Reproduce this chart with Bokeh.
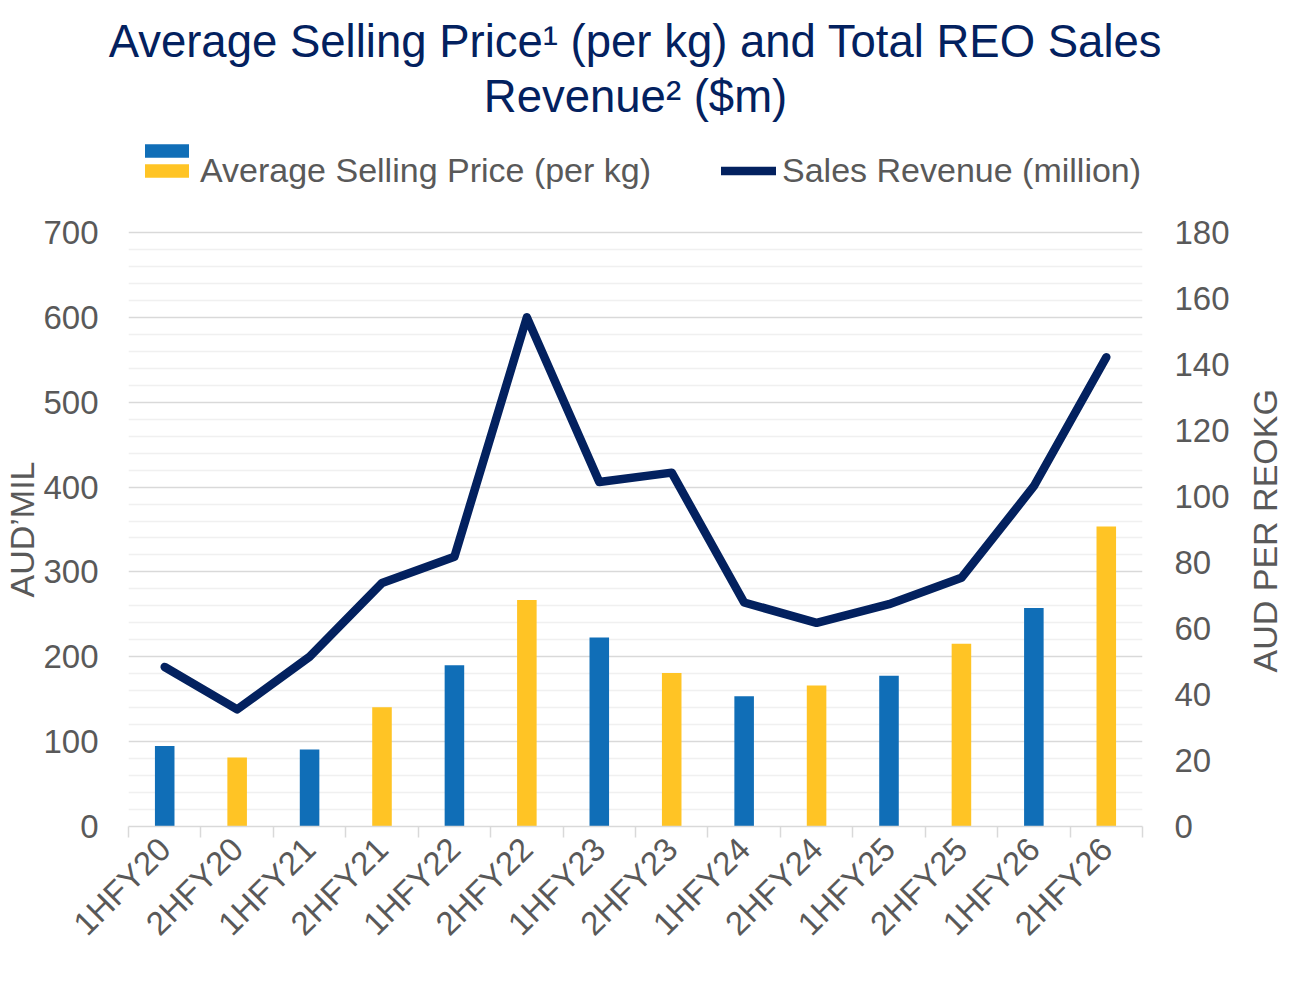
import math
from bokeh.plotting import figure
from bokeh.layouts import row
from bokeh.models import Range1d, LinearAxis, FixedTicker, Legend, LegendItem, Title
from bokeh.embed import file_html
from bokeh.resources import INLINE

periods = ["1HFY20", "2HFY20", "1HFY21", "2HFY21", "1HFY22", "2HFY22", "1HFY23",
           "2HFY23", "1HFY24", "2HFY24", "1HFY25", "2HFY25", "1HFY26", "2HFY26"]
asp_per_kg = [24.4, 20.9, 23.3, 36.1, 48.9, 68.6, 57.3, 46.5, 39.5, 42.7, 45.7, 55.4, 66.2, 90.9]
sales_revenue_m = [188, 138, 200, 287, 318, 600, 406, 417, 264, 240, 262, 293, 401, 553]
left_ticks = [0, 100, 200, 300, 400, 500, 600, 700]
right_ticks = [0, 20, 40, 60, 80, 100, 120, 140, 160, 180]
left_minor = [v for v in range(0, 701, 20) if v % 100]
title_lines = ["Average Selling Price\u00b9 (per kg) and Total REO Sales", "Revenue\u00b2 ($m)"]
left_label = "AUD\u2019MIL"
right_label = "AUD PER REOKG"

FONT = "Liberation Sans"
GRAY = "#595959"
NAVY = "#03215f"
BLUE = "#106eb7"
YELLOW = "#ffc425"

# ---- layout, in canvas pixels ----
H = 966
W_MAIN, W_SIDE = 1243, 45
AXIS_ZERO_PX, AXIS_TOP_PX = 826, 232          # where 0 and 700 sit
FRAME_TOP = 123
BORDER_BOTTOM = H - AXIS_ZERO_PX
left_max, right_max = 700, 180
k = (AXIS_ZERO_PX - AXIS_TOP_PX) / left_max   # px per left unit
y_hi = left_max + (AXIS_TOP_PX - FRAME_TOP) / k
r = right_max / left_max

n = len(periods)
centers = [i + 0.5 for i in range(n)]
bounds = list(range(n + 1))

p = figure(width=W_MAIN, height=H, x_range=Range1d(0, n), y_range=Range1d(0, y_hi),
           output_backend="svg", toolbar_location=None,
           min_border_left=123, min_border_right=101, min_border_top=FRAME_TOP,
           min_border_bottom=BORDER_BOTTOM)
p.title = None
p.outline_line_color = None
p.extra_y_ranges = {"asp": Range1d(0, y_hi * r)}

# bars split by half-year colour
h1 = [i for i, s in enumerate(periods) if s.startswith("1H")]
h2 = [i for i, s in enumerate(periods) if s.startswith("2H")]
blue_r = p.vbar(x=[centers[i] for i in h1], top=[asp_per_kg[i] for i in h1], width=0.27,
                fill_color=BLUE, line_color=None, y_range_name="asp")
yellow_r = p.vbar(x=[centers[i] for i in h2], top=[asp_per_kg[i] for i in h2], width=0.27,
                  fill_color=YELLOW, line_color=None, y_range_name="asp")
line_r = p.line(x=centers, y=sales_revenue_m, line_width=8.5, line_color=NAVY,
                line_join="round", line_cap="round")

# x axis
xa = p.xaxis[0]
xa.ticker = FixedTicker(ticks=centers, minor_ticks=bounds)
xa.major_label_overrides = {c: lab for c, lab in zip(centers, periods)}
xa.major_label_orientation = math.pi / 4
xa.major_tick_out = 0
xa.major_tick_in = 0
xa.minor_tick_out = 11
xa.minor_tick_in = 0
xa.minor_tick_line_color = "#d9d9d9"
xa.minor_tick_line_width = 1.5
xa.axis_line_color = "#d9d9d9"
xa.axis_line_width = 1.5
xa.major_label_text_font = FONT
xa.major_label_text_font_size = "33px"
xa.major_label_text_color = GRAY
xa.major_label_standoff = 6

# left axis (ticks only; its title is a rotated Title further out)
ya = p.yaxis[0]
ya.ticker = FixedTicker(ticks=left_ticks, minor_ticks=left_minor)
ya.axis_line_color = None
ya.major_tick_line_color = None
ya.minor_tick_line_color = None
ya.major_tick_out = 0
ya.minor_tick_out = 0
ya.major_tick_in = 0
ya.minor_tick_in = 0
ya.major_label_standoff = 30
ya.major_label_text_font = FONT
ya.major_label_text_font_size = "33px"
ya.major_label_text_color = GRAY

# axis titles: start of text measured up from the bottom of the plot frame
LEFT_LABEL_START = 229
RIGHT_LABEL_START = 154
lt = Title(text=left_label, align="left", offset=LEFT_LABEL_START, text_font=FONT,
           text_font_size="34px", text_font_style="normal", text_color=GRAY, standoff=0)
p.add_layout(lt, "left")

# right axis with ticks
ra = LinearAxis(y_range_name="asp", ticker=FixedTicker(ticks=right_ticks))
ra.axis_line_color = None
ra.major_tick_line_color = None
ra.minor_tick_line_color = None
ra.major_tick_out = 0
ra.minor_tick_out = 0
ra.major_tick_in = 0
ra.minor_tick_in = 0
ra.major_label_standoff = 32
ra.major_label_text_font = FONT
ra.major_label_text_font_size = "33px"
ra.major_label_text_color = GRAY
p.add_layout(ra, "right")

# grid
p.xgrid.visible = False
g = p.ygrid[0]
g.ticker = ya.ticker
g.grid_line_color = "#d9d9d9"
g.grid_line_width = 1.5
g.minor_grid_line_color = "#f0f0f0"
g.minor_grid_line_width = 1.5

# title: second line nearest the plot, first line above it
t2 = Title(text=title_lines[1], align="center", text_font=FONT, text_font_size="45.5px",
           text_font_style="normal", text_color=NAVY, standoff=4)
t1 = Title(text=title_lines[0], align="center", text_font=FONT, text_font_size="45.5px",
           text_font_style="normal", text_color=NAVY, standoff=0)
p.add_layout(t2, "above")
p.add_layout(t1, "above")

# legend (two parts so the bar swatch shows both colours); location = bottom-left offset
common = dict(padding=0, margin=0, border_line_color=None, background_fill_alpha=0,
              glyph_width=55, glyph_height=17)
leg1 = Legend(items=[LegendItem(label=" ", renderers=[blue_r])], location=(11, AXIS_ZERO_PX - 159),
              label_text_font_size="1px", label_height=17, label_width=1, label_standoff=0,
              **common)
leg2 = Legend(items=[LegendItem(label="Average Selling Price (per kg)", renderers=[yellow_r]),
                     LegendItem(label="Sales Revenue (million)", renderers=[line_r])],
              orientation="horizontal", location=(11, AXIS_ZERO_PX - 190), spacing=70,
              label_standoff=6, label_text_font=FONT, label_text_font_size="34px",
              label_text_color=GRAY, **common)
p.add_layout(leg1, "center")
p.add_layout(leg2, "center")

# narrow companion plot carrying the right-hand axis title (reads bottom-to-top)
side = figure(width=W_SIDE, height=H, x_range=Range1d(0, 1), y_range=Range1d(0, 1),
              x_axis_type=None, y_axis_type=None, output_backend="svg", toolbar_location=None,
              min_border_left=0, min_border_right=0, min_border_top=FRAME_TOP,
              min_border_bottom=BORDER_BOTTOM)
side.title = None
side.outline_line_color = None
rt = Title(text=right_label, align="left", offset=RIGHT_LABEL_START, text_font=FONT,
           text_font_size="34px", text_font_style="normal", text_color=GRAY, standoff=0)
side.add_layout(rt, "left")

layout = row(p, side, spacing=0)
open("out.html", "w").write(file_html(layout, INLINE))
